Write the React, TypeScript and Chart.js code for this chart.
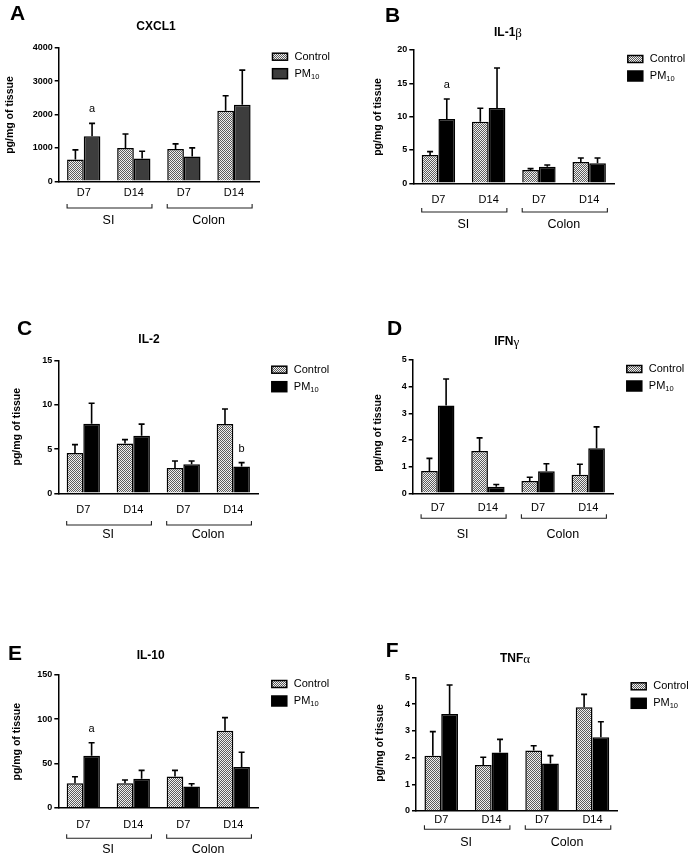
import React, { useEffect, useRef } from "react";
import { Chart, registerables } from "chart.js";

Chart.register(...registerables);

const FONT = "'Liberation Sans', Arial, sans-serif";

// ---------- shared labels ----------
const timepoints = ["D7", "D14", "D7", "D14"];
const tissues = ["SI", "Colon"];
const controlLabel = "Control";
const pmLabel = "PM";
const pmSub = "10";
const yAxisTitle = "pg/mg of tissue";

// ---------- A: CXCL1 ----------
const cxcl1Control = [650, 1000, 970, 2110];
const cxcl1ControlSem = [290, 415, 150, 450];
const cxcl1Pm10 = [1350, 680, 740, 2290];
const cxcl1Pm10Sem = [385, 220, 260, 1040];
const cxcl1Marks = ["a", "", "", ""];
const cxcl1Ticks = [0, 1000, 2000, 3000, 4000];

// ---------- B: IL-1β ----------
const il1bControl = [4.25, 9.25, 2.0, 3.2];
const il1bControlSem = [0.5, 2.0, 0.2, 0.6];
const il1bPm10 = [9.65, 11.3, 2.5, 3.0];
const il1bPm10Sem = [3.0, 6.0, 0.25, 0.8];
const il1bMarks = ["a", "", "", ""];
const il1bTicks = [0, 5, 10, 15, 20];

// ---------- C: IL-2 ----------
const il2Control = [4.56, 5.62, 2.86, 7.84];
const il2ControlSem = [0.95, 0.45, 0.8, 1.7];
const il2Pm10 = [7.88, 6.52, 3.28, 3.02];
const il2Pm10Sem = [2.3, 1.3, 0.38, 0.45];
const il2Marks = ["", "", "", "b"];
const il2Ticks = [0, 5, 10, 15];

// ---------- D: IFNγ ----------
const ifngControl = [0.84, 1.59, 0.46, 0.7];
const ifngControlSem = [0.47, 0.49, 0.14, 0.39];
const ifngPm10 = [3.29, 0.25, 0.83, 1.69];
const ifngPm10Sem = [1.0, 0.08, 0.28, 0.8];
const ifngMarks = ["", "", "", ""];
const ifngTicks = [0, 1, 2, 3, 4, 5];

// ---------- E: IL-10 ----------
const il10Control = [27.5, 27.5, 35.4, 87.1];
const il10ControlSem = [7.5, 3.8, 6.8, 14.7];
const il10Pm10 = [58.8, 32.8, 24.1, 46.0];
const il10Pm10Sem = [14.7, 9.4, 3.0, 16.6];
const il10Marks = ["a", "", "", ""];
const il10Ticks = [0, 50, 100, 150];

// ---------- F: TNFα ----------
const tnfaControl = [2.07, 1.72, 2.26, 3.88];
const tnfaControlSem = [0.9, 0.29, 0.18, 0.48];
const tnfaPm10 = [3.63, 2.19, 1.78, 2.76];
const tnfaPm10Sem = [1.08, 0.49, 0.29, 0.58];
const tnfaMarks = ["", "", "", ""];
const tnfaTicks = [0, 1, 2, 3, 4, 5];

// ---------- layout (positions / styles) ----------
type Layout = {
  box: number[];
  plot: { axisX: number; top: number; zero: number; right: number };
  tickPad: number;
  bracketDy: number;
  groupDy: number;
  letterXY: number[];
  titleXY: number[];
  yTitleXY: number[];
  pmColor: string;
};

const layouts: Record<string, Layout> = {
  A: { box: [0, 0, 345, 240], plot: { axisX: 58.7, top: 47.7, zero: 181.3, right: 259 }, tickPad: 5.1, bracketDy: 26.7, groupDy: 39.7, letterXY: [10, 20], titleXY: [156, 27], yTitleXY: [10, 115], pmColor: "#3d3d3d" },
  B: { box: [345, 0, 346, 240], plot: { axisX: 413.3, top: 50, zero: 183.3, right: 614.3 }, tickPad: 10.1, bracketDy: 28.7, groupDy: 41.7, letterXY: [385, 22], titleXY: [508, 33], yTitleXY: [378, 117], pmColor: "#000000" },
  C: { box: [0, 240, 345, 315], plot: { axisX: 58.3, top: 360.7, zero: 493.3, right: 258.3 }, tickPad: 10.1, bracketDy: 31.7, groupDy: 41.7, letterXY: [17, 335], titleXY: [149, 340], yTitleXY: [17, 426.7], pmColor: "#000000" },
  D: { box: [345, 240, 346, 315], plot: { axisX: 412.7, top: 360, zero: 493.3, right: 613.3 }, tickPad: 8.4, bracketDy: 25, groupDy: 41.7, letterXY: [387, 335], titleXY: [506.7, 341.7], yTitleXY: [378, 433], pmColor: "#000000" },
  E: { box: [0, 555, 345, 303], plot: { axisX: 58.3, top: 675, zero: 807.7, right: 258.3 }, tickPad: 10.7, bracketDy: 30.6, groupDy: 42.3, letterXY: [8, 660], titleXY: [150.7, 656], yTitleXY: [17, 741.7], pmColor: "#000000" },
  F: { box: [345, 555, 346, 303], plot: { axisX: 416, top: 677.3, zero: 811, right: 617.7 }, tickPad: 2.4, bracketDy: 18.3, groupDy: 31.7, letterXY: [385.7, 656.7], titleXY: [515, 659], yTitleXY: [380, 743], pmColor: "#000000" },
};

type PanelData = {
  letter: string;
  title: string;
  greek: string;
  control: number[];
  controlSem: number[];
  pm: number[];
  pmSem: number[];
  marks: string[];
  ticks: number[];
};

const panels: PanelData[] = [
  { letter: "A", title: "CXCL1", greek: "", control: cxcl1Control, controlSem: cxcl1ControlSem, pm: cxcl1Pm10, pmSem: cxcl1Pm10Sem, marks: cxcl1Marks, ticks: cxcl1Ticks },
  { letter: "B", title: "IL-1", greek: "β", control: il1bControl, controlSem: il1bControlSem, pm: il1bPm10, pmSem: il1bPm10Sem, marks: il1bMarks, ticks: il1bTicks },
  { letter: "C", title: "IL-2", greek: "", control: il2Control, controlSem: il2ControlSem, pm: il2Pm10, pmSem: il2Pm10Sem, marks: il2Marks, ticks: il2Ticks },
  { letter: "D", title: "IFN", greek: "γ", control: ifngControl, controlSem: ifngControlSem, pm: ifngPm10, pmSem: ifngPm10Sem, marks: ifngMarks, ticks: ifngTicks },
  { letter: "E", title: "IL-10", greek: "", control: il10Control, controlSem: il10ControlSem, pm: il10Pm10, pmSem: il10Pm10Sem, marks: il10Marks, ticks: il10Ticks },
  { letter: "F", title: "TNF", greek: "α", control: tnfaControl, controlSem: tnfaControlSem, pm: tnfaPm10, pmSem: tnfaPm10Sem, marks: tnfaMarks, ticks: tnfaTicks },
];

function makeChecker(): CanvasPattern | string {
  const c = document.createElement("canvas");
  c.width = 2;
  c.height = 2;
  const g = c.getContext("2d");
  if (!g) return "#a5a5a5";
  g.fillStyle = "#f0f0f0";
  g.fillRect(0, 0, 2, 2);
  g.fillStyle = "#5c5c5c";
  g.fillRect(0, 0, 1, 1);
  g.fillRect(1, 1, 1, 1);
  return g.createPattern(c, "repeat") || "#a5a5a5";
}

function Panel({ d }: { d: PanelData }) {
  const ref = useRef<HTMLCanvasElement>(null);
  const L = layouts[d.letter];
  const [ox, oy, w, h] = L.box;

  useEffect(() => {
    const canvas = ref.current;
    if (!canvas) return;
    const checker = makeChecker();
    const yMax = d.ticks[d.ticks.length - 1];
    const step = d.ticks[1] - d.ticks[0];
    const sems = [d.controlSem, d.pmSem];

    const extras = {
      id: "extras",
      afterDatasetsDraw(chart: any) {
        const ctx = chart.ctx as CanvasRenderingContext2D;
        const ys = chart.scales.y;
        ctx.save();
        ctx.strokeStyle = "#000";
        ctx.fillStyle = "#000";
        ctx.lineWidth = 1.6;
        chart.data.datasets.forEach((ds: any, di: number) => {
          const meta = chart.getDatasetMeta(di);
          meta.data.forEach((bar: any, i: number) => {
            const v = ds.data[i] as number;
            const yTop = ys.getPixelForValue(v + sems[di][i]);
            const x = bar.x;
            ctx.beginPath();
            ctx.moveTo(x, bar.y);
            ctx.lineTo(x, yTop);
            ctx.moveTo(x - 3, yTop);
            ctx.lineTo(x + 3, yTop);
            ctx.stroke();
            if (di === 1 && d.marks[i]) {
              ctx.font = `11px ${FONT}`;
              ctx.textAlign = "center";
              ctx.textBaseline = "middle";
              ctx.fillText(d.marks[i], x, yTop - 14);
            }
          });
        });
        ctx.restore();
      },
      afterDraw(chart: any) {
        const ctx = chart.ctx as CanvasRenderingContext2D;
        const ca = chart.chartArea;
        const xs = chart.scales.x;
        ctx.save();
        ctx.fillStyle = "#000";
        ctx.strokeStyle = "#000";

        // panel letter
        ctx.font = `bold 21px ${FONT}`;
        ctx.textAlign = "left";
        ctx.textBaseline = "alphabetic";
        ctx.fillText(d.letter, L.letterXY[0] - ox, L.letterXY[1] - oy);

        // title
        ctx.textBaseline = "middle";
        const mainFont = `bold 12px ${FONT}`;
        const greekFont = `13px 'Liberation Serif', 'DejaVu Serif', serif`;
        ctx.font = mainFont;
        const w1 = ctx.measureText(d.title).width;
        ctx.font = greekFont;
        const w2 = d.greek ? ctx.measureText(d.greek).width : 0;
        const tx = L.titleXY[0] - ox - (w1 + w2) / 2;
        const ty = L.titleXY[1] - oy;
        ctx.font = mainFont;
        ctx.fillText(d.title, tx, ty);
        if (d.greek) {
          ctx.font = greekFont;
          ctx.fillText(d.greek, tx + w1, ty + 1);
        }

        // y axis title
        ctx.save();
        ctx.translate(L.yTitleXY[0] - ox, L.yTitleXY[1] - oy);
        ctx.rotate(-Math.PI / 2);
        ctx.font = `bold 10.5px ${FONT}`;
        ctx.textAlign = "center";
        ctx.textBaseline = "middle";
        ctx.fillText(yAxisTitle, 0, 0);
        ctx.restore();

        // brackets and group labels
        const bw = chart.getDatasetMeta(0).data[0].width;
        const by = ca.bottom + L.bracketDy;
        ctx.lineWidth = 1.1;
        ctx.strokeStyle = "#222";
        tissues.forEach((t, g) => {
          const left = xs.getPixelForValue(2 * g) - bw;
          const right = xs.getPixelForValue(2 * g + 1) + bw + 1.5;
          ctx.beginPath();
          ctx.moveTo(left, by - 4);
          ctx.lineTo(left, by);
          ctx.lineTo(right, by);
          ctx.lineTo(right, by - 4);
          ctx.stroke();
          ctx.font = `12.5px ${FONT}`;
          ctx.textAlign = "center";
          ctx.textBaseline = "middle";
          ctx.fillText(t, (left + right) / 2 - 1, ca.bottom + L.groupDy);
        });

        // legend
        const bx = ca.right + 13.5;
        const ct = ca.top + 9;
        const pt = ct + 17;
        ctx.lineWidth = 1.5;
        ctx.strokeStyle = "#000";
        ctx.fillStyle = checker as any;
        ctx.fillRect(bx, ct - 3.5, 15, 7);
        ctx.strokeRect(bx, ct - 3.5, 15, 7);
        ctx.fillStyle = L.pmColor;
        ctx.fillRect(bx, pt - 5, 15, 10);
        ctx.strokeRect(bx, pt - 5, 15, 10);
        ctx.fillStyle = "#000";
        ctx.font = `11px ${FONT}`;
        ctx.textAlign = "left";
        ctx.textBaseline = "middle";
        const lx = ca.right + 35.5;
        ctx.fillText(controlLabel, lx, ct);
        ctx.fillText(pmLabel, lx, pt);
        const pw = ctx.measureText(pmLabel).width;
        ctx.font = `7.5px ${FONT}`;
        ctx.fillText(pmSub, lx + pw, pt + 3);

        ctx.restore();
      },
    };

    const chart = new Chart(canvas, {
      type: "bar",
      data: {
        labels: timepoints,
        datasets: [
          { label: controlLabel, data: d.control, backgroundColor: checker as any, borderColor: "#000", borderWidth: 1.5, barPercentage: 1, categoryPercentage: 0.665 },
          { label: pmLabel + pmSub, data: d.pm, backgroundColor: L.pmColor, borderColor: "#000", borderWidth: 1.5, barPercentage: 1, categoryPercentage: 0.665 },
        ],
      },
      options: {
        responsive: false,
        maintainAspectRatio: false,
        animation: false,
        layout: { padding: { left: 0, top: L.plot.top - oy, right: ox + w - L.plot.right, bottom: 0 } },
        plugins: { legend: { display: false }, title: { display: false }, tooltip: { enabled: false } },
        scales: {
          x: {
            type: "category",
            grid: { display: false, drawTicks: false, tickLength: 0 },
            border: { display: true, color: "#000", width: 1.5 },
            ticks: { color: "#000", font: { family: FONT, size: 11 }, padding: L.tickPad, maxRotation: 0, autoSkip: false },
            afterFit: (s: any) => {
              s.height = oy + h - L.plot.zero;
            },
          },
          y: {
            min: 0,
            max: yMax,
            grid: { drawOnChartArea: false, drawTicks: true, tickLength: 4, color: "#000", lineWidth: 1.5 },
            border: { display: true, color: "#000", width: 1.5 },
            ticks: { stepSize: step, color: "#000", font: { family: FONT, size: 9, weight: "bold" }, padding: 2, callback: (v: any) => String(v) },
            afterFit: (s: any) => {
              s.width = L.plot.axisX - ox;
            },
          },
        },
      } as any,
      plugins: [extras as any],
    });
    return () => chart.destroy();
  }, []);

  return <canvas ref={ref} width={w} height={h} style={{ position: "absolute", left: ox, top: oy, width: w, height: h }} />;
}

export default function App() {
  return (
    <div style={{ position: "absolute", left: 0, top: 0, width: 691, height: 858, background: "#fff", overflow: "hidden" }}>
      {panels.map((d) => (
        <Panel key={d.letter} d={d} />
      ))}
    </div>
  );
}
